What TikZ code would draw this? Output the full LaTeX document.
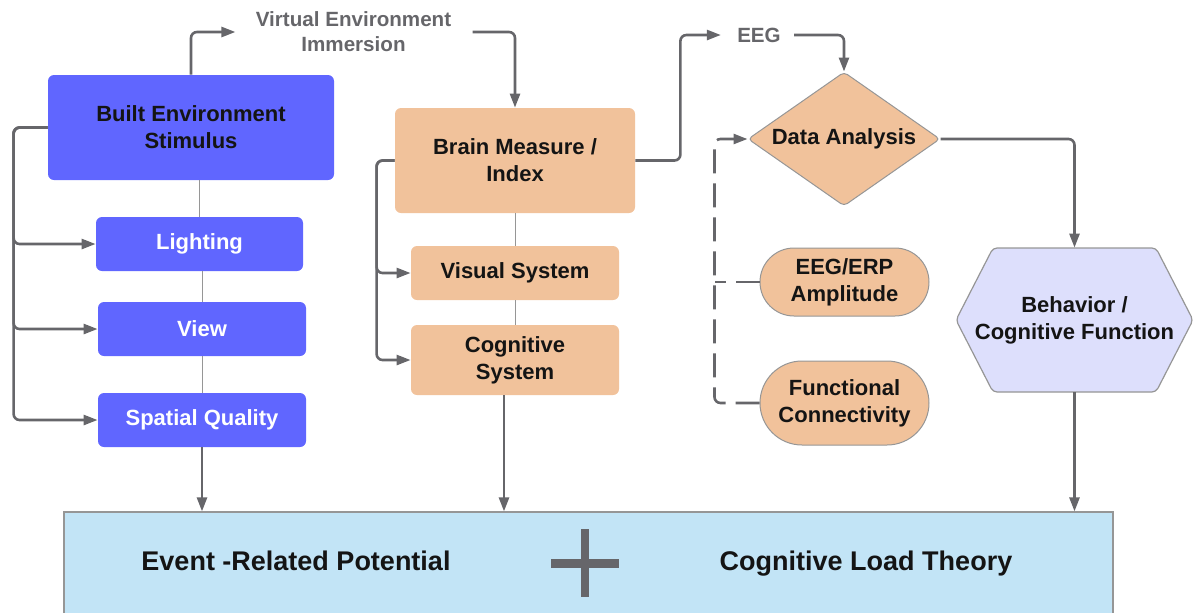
\documentclass[tikz,border=0pt]{standalone}
\usepackage{fontspec}
\setmainfont{Liberation Sans}
\usepackage{tikz}
\usetikzlibrary{arrows.meta, positioning, shapes.geometric, shapes.misc}
\definecolor{bes_blue}{RGB}{96, 102, 255}
\definecolor{bes_peach}{RGB}{241, 194, 155}
\definecolor{bes_lav}{RGB}{221, 223, 252}
\definecolor{bes_sky}{RGB}{194, 228, 246}
\definecolor{bes_line}{RGB}{102, 102, 106}
\definecolor{bes_thin}{RGB}{150, 150, 150}
\definecolor{bes_text}{RGB}{20, 20, 20}

\begin{document}
\begin{tikzpicture}[x=0.5pt, y=-0.5pt,
        every node/.style={font=\fontsize{11}{13.5}\selectfont\bfseries,
                           align=center, text=bes_text, inner sep=0pt},
        bluebox/.style={fill=bes_blue, rounded corners=3pt},
        peachbox/.style={fill=bes_peach, rounded corners=3pt},
        pill/.style={rounded rectangle, fill=bes_peach, draw=bes_thin, line width=0.5pt,
                     minimum width=84.5pt},
        note/.style={text=bes_line, font=\fontsize{10.3}{12.5}\selectfont\bfseries},
        theory/.style={font=\fontsize{13.5}{16}\selectfont\bfseries, anchor=base},
        flow/.style={-{Triangle[length=7pt, width=5pt]}, bes_line, line width=1.3pt,
                     rounded corners=3pt},
        tie/.style={bes_thin, line width=0.5pt},
      ]
        \useasboundingbox (0,0) rectangle (1200,612);
        \clip (0,0) rectangle (1200,612);

        % stimulus column
        \node[bluebox, minimum width=143pt, minimum height=52.5pt] (stim)  at (191,127.5) {Built Environment\\Stimulus};
        \node[bluebox, minimum width=103.5pt, minimum height=27pt, text=white] (light) at (199.5,244) {Lighting};
        \node[bluebox, minimum width=104pt, minimum height=27pt, text=white]   (view)  at (202,329)   {View};
        \node[bluebox, minimum width=104pt, minimum height=27pt, text=white]   (spat)  at (202,420)   {Spatial Quality};

        % brain column
        \node[peachbox, minimum width=120pt, minimum height=52.5pt] (brain) at (515,160.5) {Brain Measure /\\Index};
        \node[peachbox, minimum width=104pt, minimum height=27pt]   (vis)   at (515,273)   {Visual System};
        \node[peachbox, minimum width=104pt, minimum height=35pt]   (cog)   at (515,360)   {Cognitive\\System};

        % analysis
        \node[diamond, aspect=1.43, fill=bes_peach, draw=bes_thin, line width=0.5pt, rounded corners=2pt,
              minimum width=96pt, minimum height=67pt] (da) at (844,139) {Data Analysis};
        \node[pill, minimum height=34pt] (amp) at (844.5,282) {EEG/ERP\\Amplitude};
        \node[pill, minimum height=42pt] (fc)  at (844.5,403) {Functional\\Connectivity};
        \coordinate (bc) at (1074.5,320);
        \draw[fill=bes_lav, draw=bes_thin, line width=0.6pt, rounded corners=2pt]
          (bc) ++(-118.5,0) -- ++(37,-72) -- ++(163,0) -- ++(37,72)
          -- ++(-37,72) -- ++(-163,0) -- cycle;
        \node[minimum width=118.5pt, minimum height=72pt] (beh) at (bc) {Behavior /\\Cognitive Function};

        % labels on the arrows
        \node[note] (vei) at (353.5,32) {Virtual Environment\\Immersion};
        \node[note] (eeg) at (759,35)   {EEG};

        % theory box
        \node[fill=bes_sky, draw=bes_thin, line width=0.6pt, minimum width=524.5pt,
              minimum height=64pt] (base) at (588.5,576) {};
        \node[theory] (erp) at (296,570) {Event -Related Potential};
        \node[theory] (clt) at (866,570) {Cognitive Load Theory};
        \coordinate (plus) at (585,563);
        \draw[bes_line, line width=4pt] (plus) ++(0,-34) -- ++(0,68);
        \draw[bes_line, line width=4.5pt] (plus) ++(-34,0) -- ++(68,0);

        % thin ties
        \draw[tie] (light.north) -- (light.north |- stim.south);
        \draw[tie] (view.north)  -- (view.north |- light.south);
        \draw[tie] (spat.north)  -- (spat.north |- view.south);
        \draw[tie] (vis.north)   -- (brain.south);
        \draw[tie] (cog.north)   -- (vis.south);

        % arrows
        \foreach \t in {light, view, spat}
          \draw[flow] (stim.west) -- ++(-34,0) |- (\t.west);
        \foreach \t in {vis, cog}
          \draw[flow] (brain.west) -- ++(-18,0) |- (\t.west);
        \draw[flow] (stim.north) |- ([xshift=-10pt]vei.west);
        \draw[flow] ([xshift=10.5pt]vei.east) -| (brain.north);
        \draw[flow] (brain.east) -- ++(45,0) |- ([xshift=-8pt]eeg.west);
        \draw[flow] ([xshift=6.5pt]eeg.east) -| (da.north);
        \draw[flow] (da.east) -| (beh.north);
        \draw[flow, dash pattern=on 12pt off 5pt] (fc.west) -- ++(-45,0) coordinate (dk) |- (da.west);
        \draw[bes_line, line width=1.3pt, dash pattern=on 12pt off 5pt] (amp.west) -- (amp.west -| dk);

        \draw[flow] (spat.south) -- (spat.south |- base.north);
        \draw[flow] ([xshift=-5.5pt]cog.south) -- ([xshift=-5.5pt]cog.south |- base.north);
        \draw[flow] (beh.south) -- (beh.south |- base.north);
      \end{tikzpicture}
\end{document}
